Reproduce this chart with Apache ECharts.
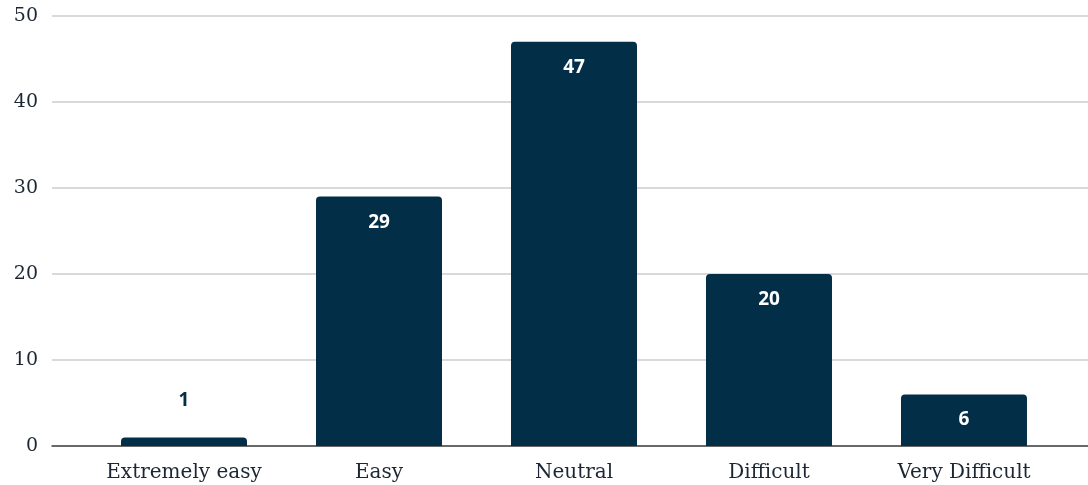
<!DOCTYPE html>
<html>
<head>
<meta charset="utf-8">
<script src="https://cdn.jsdelivr.net/npm/echarts@6/dist/echarts.min.js"></script>
<style>html,body{margin:0;padding:0;background:#fff}#c{width:1088px;height:485px}</style>
</head>
<body>
<div id="c"></div>
<script>
var categories = ['Extremely easy', 'Easy', 'Neutral', 'Difficult', 'Very Difficult'];
var values = [1, 29, 47, 20, 6];
var yTicks = [0, 10, 20, 30, 40, 50];

var chart = echarts.init(document.getElementById('c'));
var barColor = '#032e48';
var data = values.map(function (v, i) {
  var item = { value: [i, v] };
  if (v < 3) {
    item.label = { position: 'top', distance: 27, color: barColor };
  }
  return item;
});
chart.setOption({
  animation: false,
  grid: { left: 52, right: 0, top: 16, bottom: 39, containLabel: false },
  xAxis: {
    type: 'value',
    min: -0.677,
    max: 4.636,
    splitLine: { show: false },
    axisLine: { show: true, onZero: false, lineStyle: { color: '#444', width: 1.5 } },
    axisTick: { show: false },
    axisLabel: {
      customValues: categories.map(function (c, i) { return i; }),
      formatter: function (v) { return categories[Math.round(v)]; },
      fontFamily: 'DejaVu Serif',
      fontSize: 20,
      color: '#1c2733',
      margin: 17
    }
  },
  yAxis: {
    type: 'value',
    min: yTicks[0],
    max: yTicks[yTicks.length - 1],
    interval: 10,
    axisLine: { show: false },
    axisTick: { show: false },
    splitLine: { lineStyle: { color: '#cccccc', width: 1.5 } },
    axisLabel: {
      fontFamily: 'DejaVu Serif',
      fontSize: 19,
      color: '#1c2733',
      margin: 14
    }
  },
  series: [{
    type: 'bar',
    data: data,
    barWidth: 126,
    itemStyle: { color: barColor, borderRadius: [4, 4, 0, 0] },
    label: {
      show: true,
      position: 'insideTop',
      distance: 16,
      color: '#ffffff',
      fontFamily: 'Open Sans',
      fontWeight: 'bold',
      fontSize: 19,
      formatter: function (p) { return p.value[1]; }
    }
  }]
});
</script>
</body>
</html>
